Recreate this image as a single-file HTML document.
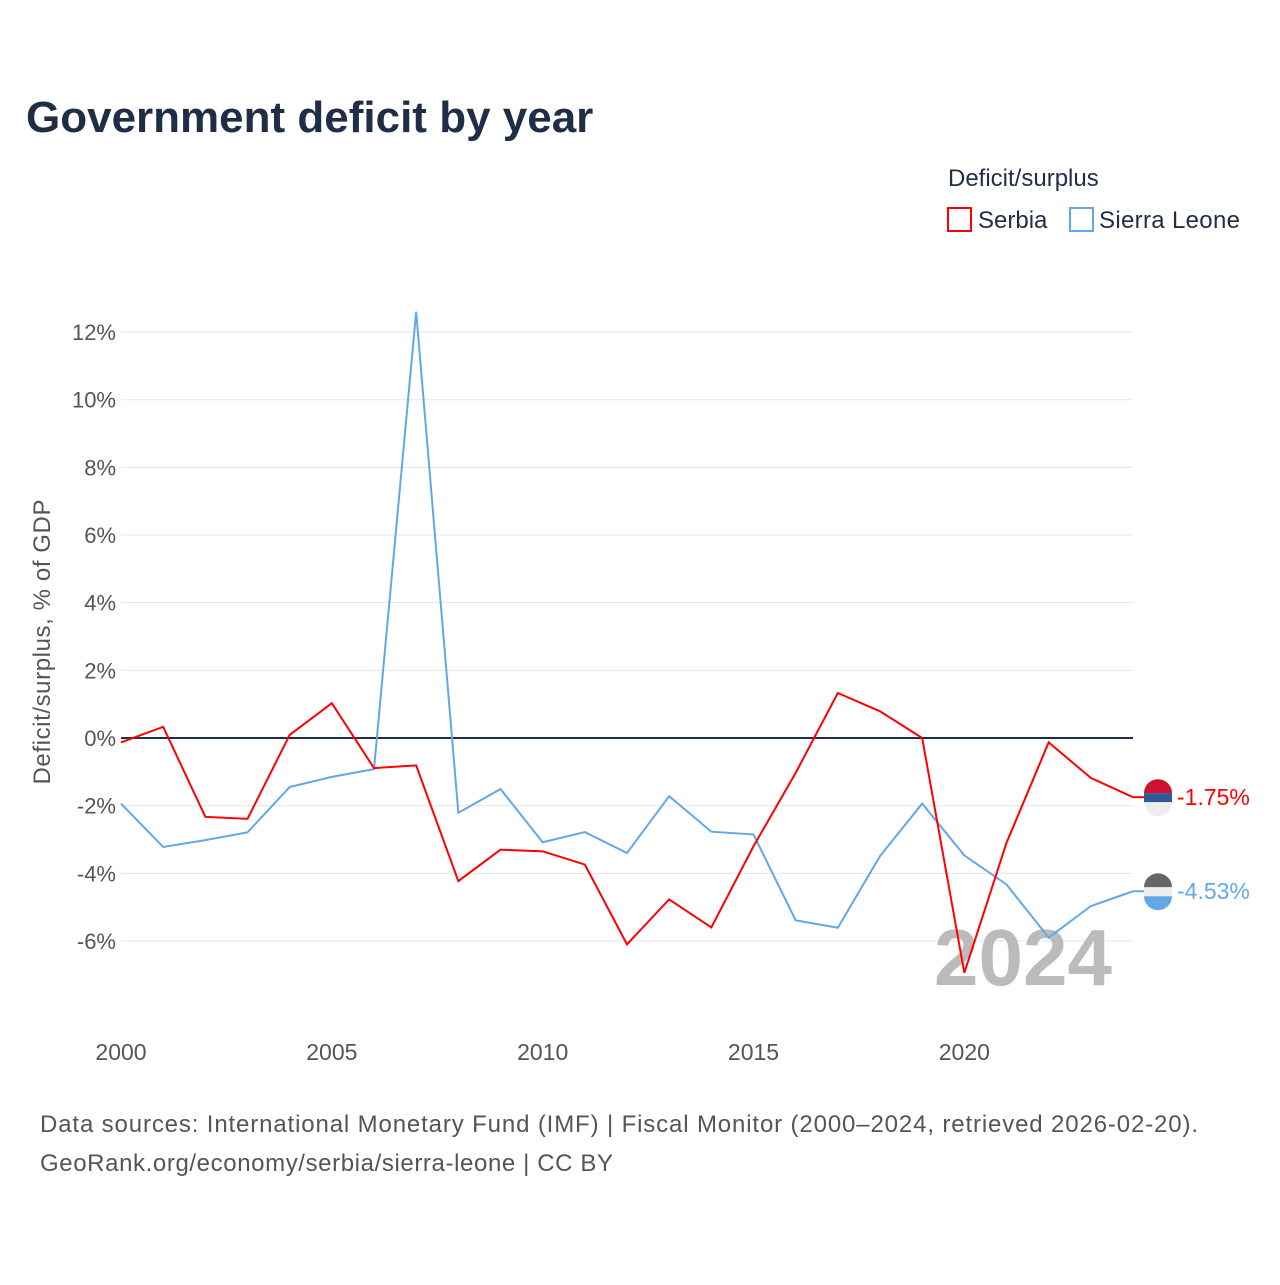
<!DOCTYPE html>
<html><head><meta charset="utf-8"><style>
body{margin:0;background:#fff;}
svg text{font-family:"Liberation Sans",sans-serif;}
</style></head><body>
<svg width="1280" height="1280" viewBox="0 0 1280 1280">
<text x="26" y="132" font-size="44" font-weight="bold" fill="#1f2d46">Government deficit by year</text>
<text x="948" y="186" font-size="24" fill="#1f2d46">Deficit/surplus</text>
<g><rect x="948" y="208" width="23" height="23" fill="none" stroke="#ff0000" stroke-width="2"/><text x="978" y="228" font-size="24" fill="#1f2d46">Serbia</text></g>
<g><rect x="1070" y="208" width="23" height="23" fill="none" stroke="#62a8e8" stroke-width="2"/><text x="1099" y="228" font-size="24" fill="#1f2d46" textLength="141">Sierra Leone</text></g>
<g id="grid"></g>
<text transform="translate(50,642) rotate(-90)" text-anchor="middle" font-size="24" fill="#555" textLength="285">Deficit/surplus, % of GDP</text>
<text x="1112" y="985" text-anchor="end" font-size="80" font-weight="bold" fill="#bbb">2024</text>
<g id="marks"></g>
<text x="40" y="1132" font-size="24" fill="#555" textLength="1158">Data sources: International Monetary Fund (IMF) | Fiscal Monitor (2000–2024, retrieved 2026-02-20).</text>
<text x="40" y="1171" font-size="24" fill="#555" textLength="573">GeoRank.org/economy/serbia/sierra-leone | CC BY</text>
</svg>
<script>
const years=[2000,2001,2002,2003,2004,2005,2006,2007,2008,2009,2010,2011,2012,2013,2014,2015,2016,2017,2018,2019,2020,2021,2022,2023,2024];
const serbia=[-0.13,0.33,-2.33,-2.39,0.09,1.03,-0.89,-0.81,-4.23,-3.3,-3.35,-3.74,-6.1,-4.77,-5.6,-3.2,-1.03,1.33,0.79,0,-6.94,-3.1,-0.13,-1.18,-1.75];
const sierraLeone=[-1.94,-3.22,-3.02,-2.79,-1.45,-1.15,-0.92,12.6,-2.21,-1.51,-3.08,-2.78,-3.4,-1.72,-2.77,-2.85,-5.39,-5.61,-3.49,-1.94,-3.47,-4.33,-5.9,-4.97,-4.53];
const yTicks=[-6,-4,-2,0,2,4,6,8,10,12];
const xTicks=[2000,2005,2010,2015,2020];
const NS='http://www.w3.org/2000/svg';
const X=y=>121+(y-2000)*(1133-121)/24;
const Y=v=>738-v*33.83;
function el(t,a,p){const e=document.createElementNS(NS,t);for(const k in a)e.setAttribute(k,a[k]);p.appendChild(e);return e;}
const grid=document.getElementById('grid'),marks=document.getElementById('marks');
yTicks.forEach(t=>{
 if(t!==0){const l=el('line',{x1:121,x2:1133,y1:Y(t),y2:Y(t),stroke:'#e6e6e6','stroke-width':1},grid);
 
 }
 const tx=el('text',{x:116,y:Y(t)+8,'text-anchor':'end','font-size':22,fill:'#555'},grid);
 tx.textContent=t+'%';
 
 
});
xTicks.forEach(t=>{
 const tx=el('text',{x:X(t),y:1060,'text-anchor':'middle','font-size':23,fill:'#555'},grid);
 tx.textContent=t;
 
 
});
const z=el('line',{x1:121,x2:1133,y1:Y(0),y2:Y(0),stroke:'#1f2d46','stroke-width':2},grid);


function series(vals,color,name){
 const p=el('polyline',{points:vals.map((v,i)=>X(years[i])+','+Y(v)).join(' '),fill:'none',stroke:color,'stroke-width':2,'stroke-linejoin':'miter'},marks);
 
 
}
series(sierraLeone,'#62a8e8','sierra-leone');
series(serbia,'#ff0000','serbia');
function endLabel(v,color,name,c1,c2,c3){
 const y=Y(v),g=el('g',{},marks);
 
 
 el('line',{x1:1133,x2:1145,y1:y,y2:y,stroke:color,'stroke-width':2},g);
 el('path',{d:`M1144,${y-4} a14,14 0 0 1 28,0 z`,fill:c1},g);
 el('rect',{x:1144,y:y-4,width:28,height:9,fill:c2},g);
 el('path',{d:`M1144,${y+5} a14,14 0 0 0 28,0 z`,fill:c3},g);
 const t=el('text',{x:1177,y:y+8,'font-size':23,fill:color},g);
 t.textContent=v.toFixed(2)+'%';
}
endLabel(serbia[24],'#ff0000','serbia','#d0102e','#2f5a9a','#eeeeee');
endLabel(sierraLeone[24],'#62a8e8','sierra-leone','#666','#eeeeee','#62a8e8');
</script>
</body></html>
